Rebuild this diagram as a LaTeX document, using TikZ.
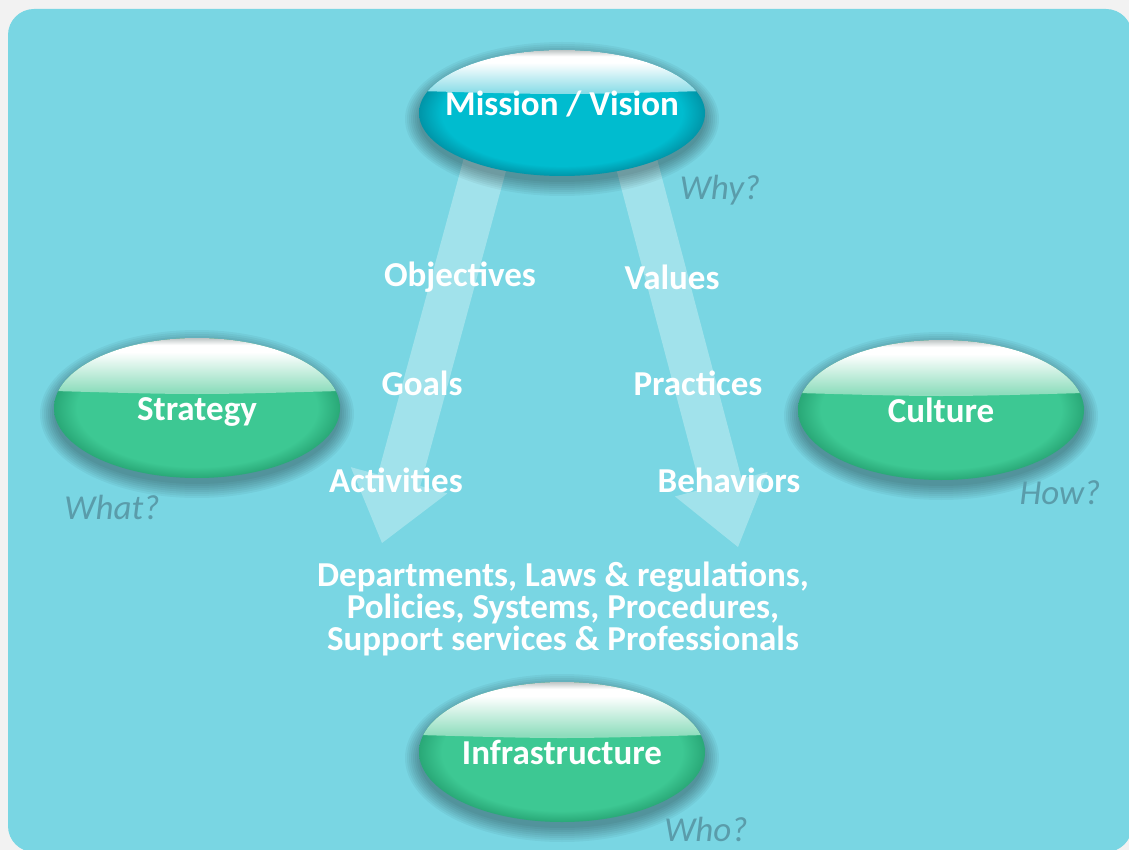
\documentclass[tikz,border=0pt]{standalone}
\usepackage{fontspec}
\setmainfont{Carlito}
\usetikzlibrary{shapes.geometric,calc}
\newcommand\bigtext{\fontsize{35}{32}\selectfont}
\definecolor{pagegray}{HTML}{F2F2F2}
\definecolor{panel}{HTML}{79D6E3}
\definecolor{tealbase}{HTML}{00BCCF}
\definecolor{tealdark}{HTML}{0095A8}
\definecolor{tealgloss}{HTML}{7ED9E5}
\definecolor{greenbase}{HTML}{3DC893}
\definecolor{greendark}{HTML}{29A877}
\definecolor{greengloss}{HTML}{8EDDBD}
\definecolor{glosstop}{HTML}{BFC6C6}
\definecolor{askgray}{HTML}{5A9CAA}
\pgfdeclareradialshading{tealrim}{\pgfpoint{0bp}{0bp}}{color(0bp)=(tealbase); color(21bp)=(tealbase); color(25bp)=(tealdark); color(50bp)=(tealdark)}
\pgfdeclareradialshading{greenrim}{\pgfpoint{0bp}{0bp}}{color(0bp)=(greenbase); color(21bp)=(greenbase); color(25bp)=(greendark); color(50bp)=(greendark)}
\pgfdeclareverticalshading{tealshine}{100bp}{color(0bp)=(tealgloss); color(57bp)=(tealgloss); color(70bp)=(white); color(72.5bp)=(white); color(75bp)=(glosstop); color(100bp)=(glosstop)}
\pgfdeclareverticalshading{greenshine}{100bp}{color(0bp)=(greengloss); color(56bp)=(greengloss); color(70bp)=(white); color(72.5bp)=(white); color(75bp)=(glosstop); color(100bp)=(glosstop)}
\tikzset{
  gloss lift/.initial=17pt,
  bubble/.style={ellipse, minimum width=286pt, minimum height=140pt, inner xsep=-30pt, inner ysep=0pt,
    text height=25pt, text depth=0pt,
    shade, shading=#1rim, text=white, font=\bigtext\bfseries,
    path picture={\shade[shading=#1shine]
      (path picture bounding box.north west) -- (path picture bounding box.north east)
      -- ([yshift=\pgfkeysvalueof{/tikz/gloss lift}]path picture bounding box.east)
      .. controls ([yshift=\pgfkeysvalueof{/tikz/gloss lift}-4pt]path picture bounding box.center) ..
      ([yshift=\pgfkeysvalueof{/tikz/gloss lift}]path picture bounding box.west) -- cycle;}},
  halo/.style={black, fill opacity=0.045},
  pointer/.style={fill=white, fill opacity=0.3},
  step label/.style={text=white, font=\bigtext\bfseries},
  ask/.style={text=askgray, font=\bigtext\itshape},
}
\begin{document}
\begin{tikzpicture}[x=1pt, y=-1pt]
\useasboundingbox (0,0) rectangle (1129,850);
\fill[pagegray] (0,0) rectangle (1129,850);
\fill[panel, rounded corners=26pt] (8,9) rectangle (1132,852);
% the two flows out of the mission
\coordinate (ls) at (497,120); \coordinate (lt) at (382,543);
\coordinate (rs) at (625,120); \coordinate (rt) at (738,547);
\foreach \start/\tip/\half/\head in {ls/lt/22pt/50pt, rs/rt/21pt/48pt}{
  \coordinate (\start h) at ($(\tip)!65pt!(\start)$);
  \fill[pointer] ($(\start)!\half!90:(\tip)$) -- ($(\start h)!\half!90:(\tip)$)
    -- ($(\start h)!\head!90:(\tip)$) -- (\tip) -- ($(\start h)!\head!-90:(\tip)$)
    -- ($(\start h)!\half!-90:(\tip)$) -- ($(\start)!\half!-90:(\tip)$) -- cycle;
}
% soft shadows under the bubbles
\foreach \cx/\cy/\ry in {562/113/63, 197/408/70, 941/410/70, 562/752/70}
  \foreach \r in {0,2,...,14}
    \fill[halo] (\cx,\cy+6) ellipse ({143+\r} and {\ry+\r});
% bubbles
\node[bubble=teal, minimum height=126pt, text depth=20pt, gloss lift=22pt] (mission) at (562,113) {Mission / Vision};
\node[bubble=green] (strategy) at (197,408) {Strategy};
\node[bubble=green] (culture) at (941,410) {Culture};
\node[bubble=green] (infra) at (562,752) {Infrastructure};
% labels along the flows
\node[step label] (objectives) at (460,277) {Objectives};
\node[step label] (goals) at (422,383) {Goals};
\node[step label] (activities) at (396,480) {Activities};
\node[step label] (values) at (672,277) {Values};
\node[step label] (practices) at (698,383) {Practices};
\node[step label] (behaviors) at (729,480) {Behaviors};
\node[step label, align=center] (parts) at (563,609) {Departments, Laws \& regulations,\\Policies, Systems, Procedures,\\Support services \& Professionals};
% questions
\node[ask] (why) at (720,190) {Why?};
\node[ask] (what) at (112,507) {What?};
\node[ask] (how) at (1060,493) {How?};
\node[ask] (who) at (706,829) {Who?};
\end{tikzpicture}
\end{document}
